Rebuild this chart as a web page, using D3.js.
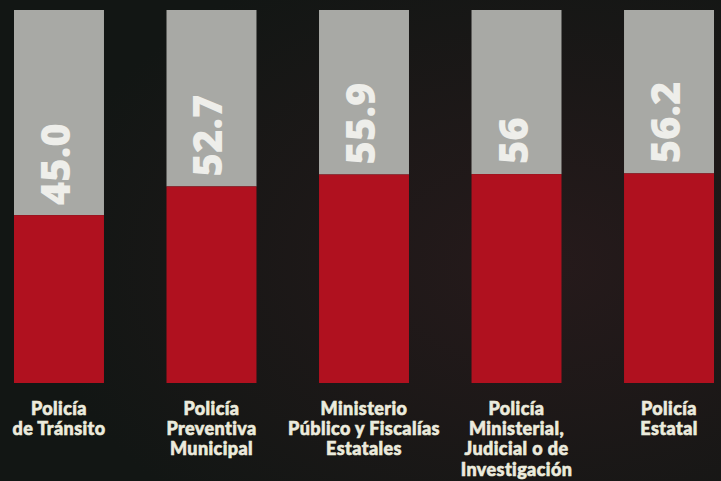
<!doctype html>
<html lang="es">
  <head>
    <meta charset="utf-8">
    <title>Policía</title>
    <script src="https://d3js.org/d3.v7.min.js"></script>
    <style>
      body { margin: 0; background: #161917; }
      svg { display: block; }
    </style>
  </head>
  <body>
    <div id="chart"></div>
    <script>
      // data
      const categories = [
        ["Policía", "de Tránsito"],
        ["Policía", "Preventiva", "Municipal"],
        ["Ministerio", "Público y Fiscalías", "Estatales"],
        ["Policía", "Ministerial,", "Judicial o de", "Investigación"],
        ["Policía", "Estatal"]
      ];
      const values = [45.0, 52.7, 55.9, 56, 56.2];
      const valueLabels = ["45.0", "52.7", "55.9", "56", "56.2"];

      const W = 721, H = 481;

      const svg = d3.select("#chart")
        .append("svg")
          .attr("width", W)
          .attr("height", H);

      // dark background with a faint red tint towards the right
      const defs = svg.append("defs");
      const grad = defs.append("radialGradient")
        .attr("id", "bg")
        .attr("cx", "75%").attr("cy", "55%").attr("r", "70%");
      grad.append("stop").attr("offset", "0%").attr("stop-color", "#261a1b");
      grad.append("stop").attr("offset", "100%").attr("stop-color", "#121614");
      svg.append("rect")
        .attr("width", W).attr("height", H)
        .attr("fill", "url(#bg)");

      const x = d3.scaleBand()
        .domain(d3.range(values.length))
        .range([14, 714])
        .paddingInner(0.41)
        .paddingOuter(0);

      const y = d3.scaleLinear()
        .domain([0, 100])
        .range([383, 10]);

      // gray part (rest up to 100)
      svg.selectAll("rect.rest")
        .data(values)
        .join("rect")
          .attr("class", "rest")
          .attr("x", (d, i) => x(i))
          .attr("y", y(100))
          .attr("width", x.bandwidth())
          .attr("height", d => y(d) - y(100))
          .attr("fill", "#a8a9a5");

      // red part (value)
      svg.selectAll("rect.val")
        .data(values)
        .join("rect")
          .attr("class", "val")
          .attr("x", (d, i) => x(i))
          .attr("y", d => y(d))
          .attr("width", x.bandwidth())
          .attr("height", d => y(0) - y(d))
          .attr("fill", "#b0111f");

      // rotated value labels inside the gray part
      svg.selectAll("text.val")
        .data(values)
        .join("text")
          .attr("class", "val")
          .attr("transform", (d, i) => `translate(${x(i) + x.bandwidth() / 2 + 11},${y(d) - 10}) rotate(-90)`)
          .attr("text-anchor", "start")
          .attr("font-family", "'Open Sans', sans-serif")
          .attr("font-weight", 800)
          .attr("font-size", "40px")
          .attr("fill", "#eeeeea")
          .text((d, i) => valueLabels[i]);

      // category labels
      const lab = svg.selectAll("text.cat")
        .data(categories)
        .join("text")
          .attr("class", "cat")
          .attr("x", (d, i) => x(i) + x.bandwidth() / 2)
          .attr("y", 415)
          .attr("text-anchor", "middle")
          .attr("font-family", "Lato, sans-serif")
          .attr("font-weight", 900)
          .attr("font-size", "18px")
          .attr("letter-spacing", "0.4px")
          .attr("fill", "#ecebdd")
          .attr("stroke", "#ecebdd")
          .attr("stroke-width", 0.6);
      lab.selectAll("tspan")
        .data(d => d)
        .join("tspan")
          .attr("x", function() { return d3.select(this.parentNode).attr("x"); })
          .attr("dy", (d, j) => j === 0 ? 0 : 20.2)
          .text(d => d);
    </script>
  </body>
</html>
